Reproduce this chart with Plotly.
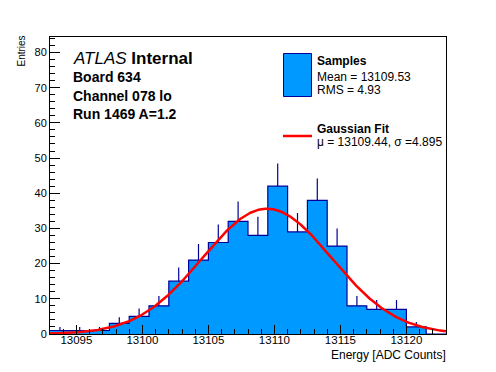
import numpy as np
import plotly.graph_objects as go

# ---- data ----
bin_low_edges = [13093.0, 13094.5, 13096.0, 13097.5, 13099.0, 13100.5, 13102.0, 13103.5,
                 13105.0, 13106.5, 13108.0, 13109.5, 13111.0, 13112.5, 13114.0, 13115.5,
                 13117.0, 13118.5, 13120.0, 13121.5]
bin_width = 1.5
counts = [1, 1, 1, 3, 5, 8, 15, 21, 26, 32, 28, 42, 29, 38, 25, 8, 7, 7, 2, 0]
fit_mu = 13109.44
fit_sigma = 4.895
fit_amplitude = 35.6
x_range = [13093.0, 13123.0]
y_range = [0, 84.4]
x_tick_values = [13095, 13100, 13105, 13110, 13115, 13120]
y_tick_values = [0, 10, 20, 30, 40, 50, 60, 70, 80]

FONT = "Liberation Sans, Arial, Helvetica, sans-serif"
FILL = "#0099ff"
EDGE = "#000099"

fig = go.Figure()

# histogram as filled step
xs = list(bin_low_edges) + [bin_low_edges[-1] + bin_width]
ys = list(counts) + [counts[-1]]
fig.add_trace(go.Scatter(x=xs, y=ys, mode="lines", line=dict(shape="hv", color=EDGE, width=1.2),
                         fill="tozeroy", fillcolor=FILL, hoverinfo="skip", showlegend=False))

# error bars (upper half only visible)
ex, ey = [], []
for lo, c in zip(bin_low_edges, counts):
    if c > 0:
        xc = lo + bin_width / 2
        ex += [xc, xc, None]
        ey += [c, c + np.sqrt(c), None]
fig.add_trace(go.Scatter(x=ex, y=ey, mode="lines", line=dict(color=EDGE, width=1.2),
                         hoverinfo="skip", showlegend=False))

# gaussian fit curve
fx = np.linspace(x_range[0], x_range[1], 400)
fy = fit_amplitude * np.exp(-0.5 * ((fx - fit_mu) / fit_sigma) ** 2)
fig.add_trace(go.Scatter(x=fx, y=fy, mode="lines", line=dict(color="#ff0000", width=2.5),
                         hoverinfo="skip", showlegend=False))

L, R, T, B = 50, 446, 37, 334
W, H = 496, 372
def px(x): return (x - L) / (R - L)
def py(y): return (B - y) / (B - T)

fig.update_layout(
    width=W, height=H,
    margin=dict(l=L, r=W - R, t=T, b=H - B),
    paper_bgcolor="white", plot_bgcolor="white",
    font=dict(family=FONT, color="black", size=11),
)
fig.update_xaxes(range=x_range, showgrid=False, zeroline=False, showline=True, linecolor="black",
                 linewidth=1, mirror=True, ticks="inside", ticklen=9, tickcolor="black",
                 tickvals=x_tick_values, tickformat="d", ticklabelstandoff=-5,
                 tickfont=dict(size=11.5, family=FONT),
                 minor=dict(ticks="inside", ticklen=5, dtick=1, tick0=13095, tickcolor="black"))
fig.update_yaxes(range=y_range, showgrid=False, zeroline=False, showline=True, linecolor="black",
                 linewidth=1, mirror=True, ticks="inside", ticklen=10, tickcolor="black",
                 tickvals=y_tick_values, tickformat="d",
                 tickfont=dict(size=11, family=FONT),
                 minor=dict(ticks="inside", ticklen=5, dtick=2, tick0=0, tickcolor="black"))

ann = []
def text(x, y, s, size=11, xanchor="left", yanchor="middle", angle=0):
    ann.append(dict(xref="paper", yref="paper", x=px(x), y=py(y), text=s, showarrow=False,
                    xanchor=xanchor, yanchor=yanchor, textangle=angle, borderpad=0,
                    font=dict(size=size, family=FONT, color="black")))

text(72, 58, "<i>ATLAS</i> <b>Internal</b>", size=17)
text(72, 77, "<b>Board 634</b>", size=14)
text(72, 96, "<b>Channel 078 lo</b>", size=14)
text(72, 114, "<b>Run 1469 A=1.2</b>", size=14)
text(447, 355, "Energy [ADC Counts]", size=12, xanchor="right")
text(21, 35, "Entries", size=10, xanchor="center", yanchor="top", angle=-90)

text(316, 61, "<b>Samples</b>", size=12)
text(316, 77, "Mean = 13109.53", size=12)
text(316, 90, "RMS = 4.93", size=12)
text(316, 129, "<b>Gaussian Fit</b>", size=12)
text(316, 142, "μ = 13109.44, σ =4.895", size=12)
fig.update_layout(annotations=ann)

# legend symbols
fig.add_shape(type="rect", xref="paper", yref="paper", x0=px(283.5), x1=px(311.5),
              y0=py(96.5), y1=py(53.5), fillcolor=FILL, line=dict(color=EDGE, width=1))
fig.add_shape(type="line", xref="paper", yref="paper", x0=px(283), x1=px(312),
              y0=py(136), y1=py(136), line=dict(color="#ff0000", width=2.5))

fig.write_html("out.html", config={"displayModeBar": False},
               post_script="document.body.style.margin='0';document.body.style.overflow='hidden';")
